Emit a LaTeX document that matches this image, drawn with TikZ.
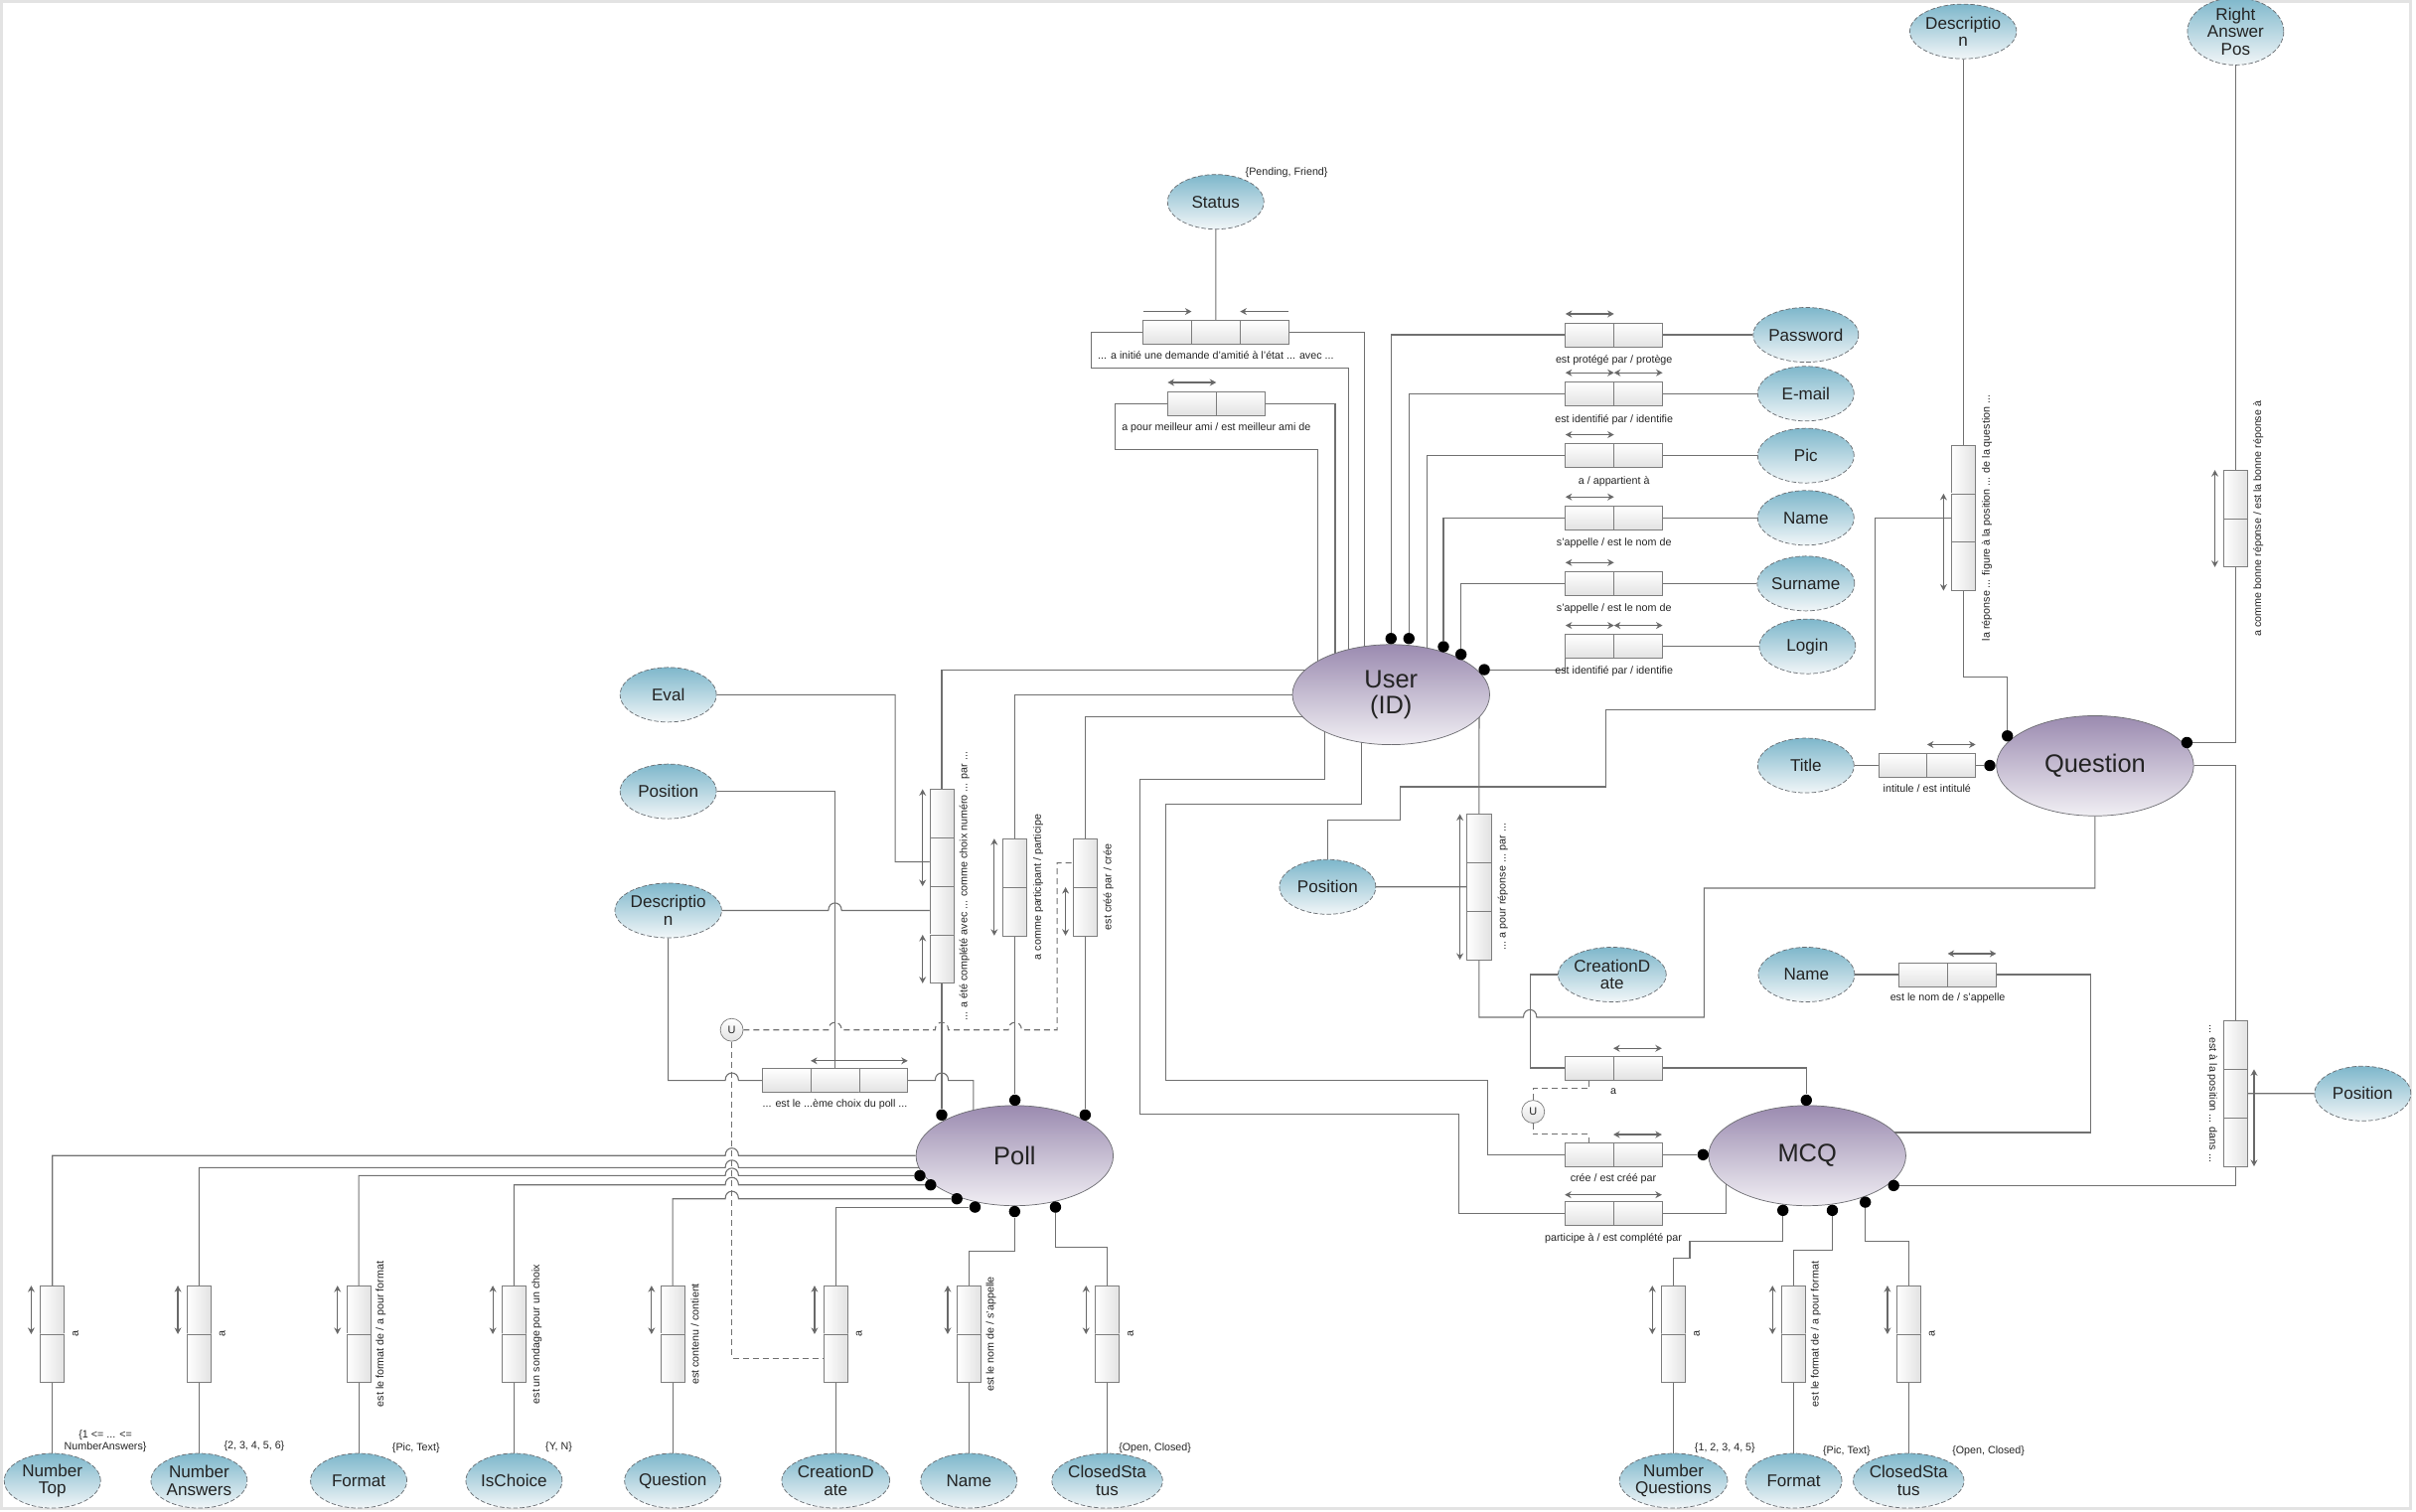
\documentclass[tikz,border=0pt]{standalone}
\usepackage{fontspec}
\setmainfont{Liberation Sans}
\usetikzlibrary{shapes.geometric, arrows.meta, positioning, backgrounds}

\definecolor{entTop}{RGB}{155,139,176}
\definecolor{entBot}{RGB}{241,239,244}
\definecolor{entLine}{RGB}{110,110,115}
\definecolor{attTop}{RGB}{126,183,203}
\definecolor{attBot}{RGB}{241,246,248}
\definecolor{attLine}{RGB}{105,110,115}
\definecolor{cellLine}{RGB}{125,125,125}
\definecolor{cellBot}{RGB}{226,226,226}
\definecolor{linkGray}{RGB}{112,112,112}
\definecolor{arrGray}{RGB}{105,105,105}
\definecolor{txt}{RGB}{35,35,35}

% line jump over a vertical connector
\newcommand{\hop}[2]{-- ({#1-4.3},#2) .. controls ({#1-4.3},{#2-6.5}) and ({#1+4.3},{#2-6.5}) .. ({#1+4.3},#2)}

\begin{document}
\begin{tikzpicture}[
    x=0.03cm, y=-0.03cm,
    entity/.style={ellipse, draw=entLine, top color=entTop, bottom color=entBot, minimum width=3.84cm, minimum height=1.95cm, inner sep=0pt, align=center, text=txt, font=\fontsize{14}{14.6}\selectfont},
    attr/.style={ellipse, draw=attLine, dash pattern=on 2.5pt off 1.2pt, top color=attTop, bottom color=attBot, minimum width=1.875cm, minimum height=1.065cm, inner sep=0pt, align=center, text=txt, font=\fontsize{9.4}{9.7}\selectfont},
    hcell/.style={rectangle, draw=cellLine, top color=white, bottom color=cellBot, minimum width=0.945cm, minimum height=0.465cm, inner sep=0pt, outer sep=0pt},
    vcell/.style={rectangle, draw=cellLine, left color=white, right color=cellBot, minimum width=0.465cm, minimum height=0.945cm, inner sep=0pt, outer sep=0pt},
    note/.style={font=\fontsize{5.9}{6.6}\selectfont, text=txt, inner sep=0pt, align=center},
    cardot/.style={circle, fill=black, inner sep=0pt, minimum size=0.22cm},
    ucirc/.style={circle, draw=cellLine, top color=white, bottom color=cellBot, minimum size=0.444cm, inner sep=0pt, text=txt, font=\fontsize{6}{6}\selectfont},
    conn/.style={draw=linkGray, line width=0.6pt},
    dashconn/.style={draw=linkGray, line width=0.6pt, dash pattern=on 3.3pt off 2.2pt},
    biarrow/.style={{Stealth[length=3.6pt,width=3.8pt]}-{Stealth[length=3.6pt,width=3.8pt]}, draw=arrGray, line width=0.65pt},
    onearrow/.style={-{Stealth[length=3.6pt,width=3.8pt]}, draw=arrGray, line width=0.65pt},
]
\useasboundingbox (0,0) rectangle (1568,981);
\draw[gray!22, line width=1.5pt] (0.8,1) rectangle (1564.5,979);

% entities
\node[entity] (user) at (902.8,450.8) {User\\(ID)};
\node[entity] (poll) at (658.5,750) {Poll};
\node[entity] (question) at (1359.7,497) {Question};
\node[entity] (mcq) at (1172.9,750) {MCQ};

% user attributes
\node[attr] (status) at (789,131) {Status};
\node[attr] (pwd) at (1172,217.3) {Password};
\node[attr] (email) at (1172,255.5) {E-mail};
\node[attr] (pic) at (1172,295.7) {Pic};
\node[attr] (uname) at (1172,336.1) {Name};
\node[attr] (surname) at (1172,378.7) {Surname};
\node[attr] (login) at (1173,419.5) {Login};

% question and mcq attributes
\node[attr] (qdesc) at (1274.1,20.4) {Descriptio\\n};
\node[attr] (rap) at (1450.9,20.4) {Right\\Answer\\Pos};
\node[attr] (title) at (1172,496.8) {Title};
\node[attr] (mname) at (1172.4,632.5) {Name};
\node[attr] (mdate) at (1046.3,632.5) {CreationD\\ate};
\node[attr] (qpos) at (1533.4,709.7) {Position};
\node[attr] (apos) at (861.6,575.6) {Position};

% choice attributes
\node[attr] (eval) at (433.7,450.9) {Eval};
\node[attr] (cpos) at (433.7,513.6) {Position};
\node[attr] (cdesc) at (433.7,590.9) {Descriptio\\n};

% poll attributes
\node[attr] (ntop) at (34,961) {Number\\Top};
\node[attr] (nans) at (129.2,961) {Number\\Answers};
\node[attr] (pformat) at (232.8,961) {Format};
\node[attr] (ischoice) at (333.6,961) {IsChoice};
\node[attr] (pquest) at (436.6,961) {Question};
\node[attr] (pdate) at (542.4,961) {CreationD\\ate};
\node[attr] (pname) at (628.8,961) {Name};
\node[attr] (pclosed) at (718.6,961) {ClosedSta\\tus};

% mcq bottom attributes
\node[attr] (nq) at (1086.1,961) {Number\\Questions};
\node[attr] (mformat) at (1164.1,961) {Format};
\node[attr] (mclosed) at (1238.7,961) {ClosedSta\\tus};

% horizontal relation boxes
\node[hcell] (fr1) at (757.6,215.75) {};
\node[hcell, right=0pt of fr1] (fr2) {};
\node[hcell, right=0pt of fr2] (fr3) {};
\node[hcell] (bf1) at (773.6,261.8) {};
\node[hcell, right=0pt of bf1] (bf2) {};
\node[hcell] (pwd1) at (1031.75,217.3) {};
\node[hcell, right=0pt of pwd1] (pwd2) {};
\node[hcell] (em1) at (1031.75,255.5) {};
\node[hcell, right=0pt of em1] (em2) {};
\node[hcell] (pic1) at (1031.75,295.7) {};
\node[hcell, right=0pt of pic1] (pic2) {};
\node[hcell] (nm1) at (1031.75,336.1) {};
\node[hcell, right=0pt of nm1] (nm2) {};
\node[hcell] (sn1) at (1031.75,378.7) {};
\node[hcell, right=0pt of sn1] (sn2) {};
\node[hcell] (lg1) at (1031.75,419.5) {};
\node[hcell, right=0pt of lg1] (lg2) {};
\node[hcell] (ti1) at (1234.9,496.8) {};
\node[hcell, right=0pt of ti1] (ti2) {};
\node[hcell] (mn1) at (1248.3,632.5) {};
\node[hcell, right=0pt of mn1] (mn2) {};
\node[hcell] (pc1) at (510.4,701.2) {};
\node[hcell, right=0pt of pc1] (pc2) {};
\node[hcell, right=0pt of pc2] (pc3) {};
\node[hcell] (ma1) at (1031.3,693.1) {};
\node[hcell, right=0pt of ma1] (ma2) {};
\node[hcell] (ce1) at (1031.3,749.4) {};
\node[hcell, right=0pt of ce1] (ce2) {};
\node[hcell] (pt1) at (1031.3,787.5) {};
\node[hcell, right=0pt of pt1] (pt2) {};

% vertical relation boxes
\node[vcell] (ch1) at (611.2,527.9) {};
\node[vcell, below=0pt of ch1] (ch2) {};
\node[vcell, below=0pt of ch2] (ch3) {};
\node[vcell, below=0pt of ch3] (ch4) {};
\node[vcell] (pa1) at (658.7,560) {};
\node[vcell, below=0pt of pa1] (pa2) {};
\node[vcell] (cr1) at (704.3,560) {};
\node[vcell, below=0pt of cr1] (cr2) {};
\node[vcell] (ap1) at (959.9,544.1) {};
\node[vcell, below=0pt of ap1] (ap2) {};
\node[vcell, below=0pt of ap2] (ap3) {};
\node[vcell] (lr1) at (1274.1,304.6) {};
\node[vcell, below=0pt of lr1] (lr2) {};
\node[vcell, below=0pt of lr2] (lr3) {};
\node[vcell] (ra1) at (1450.9,320.8) {};
\node[vcell, below=0pt of ra1] (ra2) {};
\node[vcell] (ep1) at (1450.8,678.2) {};
\node[vcell, below=0pt of ep1] (ep2) {};
\node[vcell, below=0pt of ep2] (ep3) {};
\foreach \n/\x in {ntr/34, nar/129.2, pfr/232.8, icr/333.6, pqr/436.6, pdr/542.4, pnr/628.8, pcr/718.6, nqr/1086.1, mfr/1164.1, mcr/1238.7} {
  \node[vcell] (\n1) at (\x,850.1) {};
  \node[vcell, below=0pt of \n1] (\n2) {};
  \draw[biarrow] ([xshift=-1.8mm]\n1.north west) -- ([xshift=-1.8mm]\n1.south west);
}

% union circles
\node[ucirc] (uc1) at (474.9,668.4) {U};
\node[ucirc] (uc2) at (995,721.5) {U};

% cardinality arrows
\draw[onearrow] ([yshift=1.75mm]fr1.north west) -- ([yshift=1.75mm]fr1.north east);
\draw[onearrow] ([yshift=1.75mm]fr3.north east) -- ([yshift=1.75mm]fr3.north west);
\draw[biarrow] ([yshift=1.75mm]bf1.north west) -- ([yshift=1.75mm]bf1.north east);
\draw[biarrow] ([yshift=1.75mm]pwd1.north west) -- ([yshift=1.75mm]pwd1.north east);
\draw[biarrow] ([yshift=1.75mm]em1.north west) -- ([yshift=1.75mm]em1.north east);
\draw[biarrow] ([yshift=1.75mm]em2.north west) -- ([yshift=1.75mm]em2.north east);
\draw[biarrow] ([yshift=1.75mm]pic1.north west) -- ([yshift=1.75mm]pic1.north east);
\draw[biarrow] ([yshift=1.75mm]nm1.north west) -- ([yshift=1.75mm]nm1.north east);
\draw[biarrow] ([yshift=1.75mm]sn1.north west) -- ([yshift=1.75mm]sn1.north east);
\draw[biarrow] ([yshift=1.75mm]lg1.north west) -- ([yshift=1.75mm]lg1.north east);
\draw[biarrow] ([yshift=1.75mm]lg2.north west) -- ([yshift=1.75mm]lg2.north east);
\draw[biarrow] ([yshift=1.75mm]ti2.north west) -- ([yshift=1.75mm]ti2.north east);
\draw[biarrow] ([yshift=1.75mm]mn2.north west) -- ([yshift=1.75mm]mn2.north east);
\draw[biarrow] ([yshift=1.5mm]pc2.north west) -- ([yshift=1.5mm]pc3.north east);
\draw[biarrow] ([yshift=1.5mm]ma2.north west) -- ([yshift=1.5mm]ma2.north east);
\draw[biarrow] ([yshift=1.6mm]ce2.north west) -- ([yshift=1.6mm]ce2.north east);
\draw[biarrow] ([yshift=1.3mm]pt1.north west) -- ([yshift=1.3mm]pt2.north east);
\draw[biarrow] ([xshift=-1.4mm]ch1.north west) -- ([xshift=-1.4mm]ch2.south west);
\draw[biarrow] ([xshift=-1.4mm]ch4.north west) -- ([xshift=-1.4mm]ch4.south west);
\draw[biarrow] ([xshift=-1.7mm]pa1.north west) -- ([xshift=-1.7mm]pa2.south west);
\draw[biarrow] ([xshift=-1.5mm]cr2.north west) -- ([xshift=-1.5mm]cr2.south west);
\draw[biarrow] ([xshift=-1.4mm]ap1.north west) -- ([xshift=-1.4mm]ap3.south west);
\draw[biarrow] ([xshift=-1.5mm]lr2.north west) -- ([xshift=-1.5mm]lr3.south west);
\draw[biarrow] ([xshift=-1.7mm]ra1.north west) -- ([xshift=-1.7mm]ra2.south west);
\draw[biarrow] ([xshift=1.3mm]ep2.north east) -- ([xshift=1.3mm]ep3.south east);

% relation labels
\node[note, below=1.3mm of fr2] {... a initié une demande d'amitié à l'état ... avec ...};
\node[note, below=1.4mm of bf1.south east] {a pour meilleur ami / est meilleur ami de};
\node[note, below=1.5mm of pwd1.south east] {est protégé par / protège};
\node[note, below=1.7mm of em1.south east] {est identifié par / identifie};
\node[note, below=1.6mm of pic1.south east] {a / appartient à};
\node[note, below=1.6mm of nm1.south east] {s'appelle / est le nom de};
\node[note, below=1.6mm of sn1.south east] {s'appelle / est le nom de};
\node[note, below=1.5mm of lg1.south east] {est identifié par / identifie};
\node[note, below=1.2mm of ti1.south east] {intitule / est intitulé};
\node[note, below=1.2mm of mn1.south east] {est le nom de / s'appelle};
\node[note, below=1.3mm of pc2] {... est le ...ème choix du poll ...};
\node[note, below=1.6mm of ma1.south east] {a};
\node[note, below=1.4mm of ce1.south east] {crée / est créé par};
\node[note, below=1.5mm of pt1.south east] {participe à / est complété par};
\node[note, rotate=90] at ([xshift=2.1mm]ch2.south east) {... a été complété avec ... comme choix numéro ... par ...};
\node[note, rotate=90] at ([xshift=2.2mm]pa1.south east) {a comme participant / participe};
\node[note, rotate=90] at ([xshift=2.2mm]cr1.south east) {est créé par / crée};
\node[note, rotate=90] at ([xshift=2.3mm]ap2.east) {... a pour réponse ... par ...};
\node[note, rotate=90] at ([xshift=2.3mm]lr2.east) {la réponse ... figure à la position ... de la question ...};
\node[note, rotate=90] at ([xshift=2.1mm]ra1.south east) {a comme bonne réponse / est la bonne réponse à};
\node[note, rotate=-90] at ([xshift=-2.2mm]ep2.west) {... est à la position ... dans ...};
\node[note, rotate=90] at ([xshift=2.2mm]ntr1.south east) {a};
\node[note, rotate=90] at ([xshift=2.2mm]nar1.south east) {a};
\node[note, rotate=90] at ([xshift=2.0mm]pfr1.south east) {est le format de / a pour format};
\node[note, rotate=90] at ([xshift=2.1mm]icr1.south east) {est un sondage pour un choix};
\node[note, rotate=90] at ([xshift=2.0mm]pqr1.south east) {est contenu / contient};
\node[note, rotate=90] at ([xshift=2.2mm]pdr1.south east) {a};
\node[note, rotate=90] at ([xshift=2.0mm]pnr1.south east) {est le nom de / s'appelle};
\node[note, rotate=90] at ([xshift=2.2mm]pcr1.south east) {a};
\node[note, rotate=90] at ([xshift=2.2mm]nqr1.south east) {a};
\node[note, rotate=90] at ([xshift=2.0mm]mfr1.south east) {est le format de / a pour format};
\node[note, rotate=90] at ([xshift=2.2mm]mcr1.south east) {a};

% value domains
\node[note] at (835,112) {\{Pending, Friend\}};
\node[note] at (68.4,935.3) {\{1 <= ... <=\\NumberAnswers\}};
\node[note] at (165,938.7) {\{2, 3, 4, 5, 6\}};
\node[note] at (270,939.6) {\{Pic, Text\}};
\node[note] at (362.7,939.5) {\{Y, N\}};
\node[note] at (749.6,939.6) {\{Open, Closed\}};
\node[note] at (1119.5,939.6) {\{1, 2, 3, 4, 5\}};
\node[note] at (1198.5,941.8) {\{Pic, Text\}};
\node[note] at (1290.5,941.8) {\{Open, Closed\}};

% participation dots
\node[cardot] (dpwd) at (902.8,414.4) {};
\node[cardot] (dem) at (914.4,414.4) {};
\node[cardot] (dnm) at (936.8,419.7) {};
\node[cardot] (dsn) at (948.2,424.7) {};
\node[cardot] (dlg) at (963.3,434.6) {};
\node[cardot] (dch) at (611.2,723.6) {};
\node[cardot] (dpa) at (658.7,714) {};
\node[cardot] (dcr) at (704.3,723.6) {};
\node[cardot] (dpf) at (597,763) {};
\node[cardot] (dic) at (604,769) {};
\node[cardot] (dpq) at (621,778) {};
\node[cardot] (dpd) at (632.8,783.4) {};
\node[cardot] (dpn) at (658.5,786.3) {};
\node[cardot] (dpc) at (685,783.4) {};
\node[cardot] (dmma) at (1172.3,714) {};
\node[cardot] (dmce) at (1105.3,749.4) {};
\node[cardot] (dmep) at (1229,769.4) {};
\node[cardot] (dmnq) at (1157.1,785.5) {};
\node[cardot] (dmf) at (1189.2,785.5) {};
\node[cardot] (dmc) at (1210.6,780.2) {};
\node[cardot] (dqlr) at (1302.8,477.6) {};
\node[cardot] (dqti) at (1291.4,496.8) {};
\node[cardot] (dqra) at (1419.3,481.9) {};

\begin{scope}[on background layer]
% user side
\draw[conn] (status) -- (fr2);
\draw[conn] (fr1.west) -| (708.4,238.6) -| (875.5,0 |- user);
\draw[conn] (fr3.east) -| (885.7,0 |- user);
\draw[conn] (bf1.west) -| (723.7,291.6) -| (855.2,0 |- user);
\draw[conn] (bf2.east) -| (866.5,0 |- user);
\draw[conn] (pwd1.west) -| (dpwd);
\draw[conn] (em1.west) -| (dem);
\draw[conn] (pic1.west) -| (926.2,0 |- user);
\draw[conn] (nm1.west) -| (dnm);
\draw[conn] (sn1.west) -| (dsn);
\draw[conn] (lg1.south west) |- (dlg);
\draw[conn] (pwd2.east) -- (pwd);
\draw[conn] (em2.east) -- (email);
\draw[conn] (pic2.east) -- (pic);
\draw[conn] (nm2.east) -- (uname);
\draw[conn] (sn2.east) -- (surname);
\draw[conn] (lg2.east) -- (login);

% user to poll
\draw[conn] (ch1.north) |- (user |- 0,434.6);
\draw[conn] (ch4.south) -- (dch);
\draw[conn] (pa1.north) |- (user);
\draw[conn] (pa2.south) -- (dpa);
\draw[conn] (cr1.north) |- (user |- 0,465.3);
\draw[conn] (cr2.south) -- (dcr);
\draw[conn] (eval.east) -| (581,559.4) -- (ch2.west);
\draw[conn] (cdesc.east) \hop{541.9}{590.9} -- (ch3.west);
\draw[conn] (cpos.east) -| (pc2.north);
\draw[conn] (cdesc.south) -- (433.7,701.2) \hop{475}{701.2} -- (pc1.west);
\draw[conn] (pc3.east) \hop{611.2}{701.2} -| (631.8,0 |- poll);
\draw[dashconn] (uc1.east) \hop{541.9}{668.4} \hop{611.2}{668.4} \hop{658.7}{668.4} -- (686.1,668.4) |- (cr1.west);
\draw[dashconn] (uc1.south) |- (pdr2.west);

% poll attributes
\draw[conn] (ntr1.north) -- (34,750) \hop{475}{750} -- (poll.west);
\draw[conn] (nar1.north) -- (129.2,757.8) \hop{475}{757.8} -- (poll.center |- 0,757.8);
\draw[conn] (pfr1.north) -- (232.8,763) \hop{475}{763} -- (dpf);
\draw[conn] (icr1.north) -- (333.6,769) \hop{475}{769} -- (dic);
\draw[conn] (pqr1.north) -- (436.6,778) \hop{475}{778} -- (dpq);
\draw[conn] (pdr1.north) |- (dpd);
\draw[conn] (pnr1.north) -- (628.8,812) -| (dpn);
\draw[conn] (pcr1.north) -- (718.6,809.2) -| (dpc);
\foreach \n/\a in {ntr/ntop, nar/nans, pfr/pformat, icr/ischoice, pqr/pquest, pdr/pdate, pnr/pname, pcr/pclosed, nqr/nq, mfr/mformat, mcr/mclosed}
  \draw[conn] (\n2.south) -- (\a);

% user to mcq
\draw[conn] (860,0 |- user) |- (739.7,505.5) |- (947,722.8) |- (pt1.west);
\draw[conn] (883.8,0 |- user) |- (756.4,521.8) |- (965.4,701) |- (ce1.west);
\draw[conn] (ce2.east) -- (dmce);
\draw[conn] (pt2.east) -| (1120,0 |- mcq);
\draw[conn] (mdate.west) -| (993,693.1) -- (ma1.west);
\draw[conn] (ma2.east) -| (dmma);
\draw[dashconn] (uc2.north) -- (995,706.4) -| (ma1.south);
\draw[dashconn] (uc2.south) -- (995,736.1) -| (ce1.north);
\draw[conn] (mname.east) -- (mn1.west);
\draw[conn] (mn2.east) -| (1357,735) -- (mcq |- 0,735);

% answers and questions
\draw[conn] (960,0 |- user) -- (ap1.north);
\draw[conn] (apos.east) -- (ap2.west);
\draw[conn] (ap3.south) -- (959.9,660.2) \hop{993}{660.2} -| (1105.9,576.4) -| (question);
\draw[conn] (apos.north) |- (908.5,532.4) |- (1042.2,510.6) |- (1216.7,460.6) |- (lr2.west);
\draw[conn] (qdesc) -- (lr1);
\draw[conn] (lr3.south) |- (1302.8,439.1) -- (dqlr);
\draw[conn] (rap) -- (ra1);
\draw[conn] (ra2.south) |- (dqra);
\draw[conn] (title) -- (ti1.west);
\draw[conn] (ti2.east) -- (dqti);
\draw[conn] (question.east) -| (ep1.north);
\draw[conn] (ep2.east) -- (qpos);
\draw[conn] (ep3.south) |- (dmep);
\draw[conn] (dmnq) |- (1096.7,805.5) |- (1086.1,816.7) -- (nqr1.north);
\draw[conn] (dmf) |- (1164.1,811.3) -- (mfr1.north);
\draw[conn] (dmc) |- (1238.7,805.5) -- (mcr1.north);
\end{scope}

\end{tikzpicture}
\end{document}
